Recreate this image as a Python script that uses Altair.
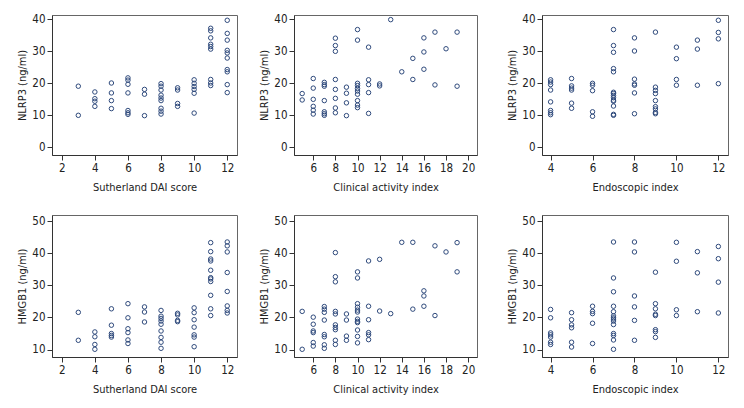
import altair as alt
import pandas as pd

# ---- data: x score -> list of measured concentrations (ng/ml) ----
DAI_NLRP3 = {
    3: [19.0, 9.9],
    4: [17.2, 15.1, 14.3, 12.7],
    5: [20.0, 16.9, 14.5, 12.0],
    6: [21.6, 20.9, 19.6, 16.9, 11.4, 10.7, 10.2],
    7: [18.0, 16.5, 9.8],
    8: [19.8, 19.0, 17.8, 16.2, 15.3, 14.5, 12.1, 11.2, 10.3],
    9: [18.5, 17.8, 13.6, 12.7],
    10: [21.0, 19.9, 18.9, 18.0, 16.8, 10.6],
    11: [37.1, 36.3, 34.1, 32.1, 31.4, 30.6, 21.1, 20.0, 19.2],
    12: [39.6, 35.5, 33.4, 30.2, 29.4, 27.8, 24.2, 23.5, 19.5, 17.0],
}
CAI_NLRP3 = {
    5: [16.7, 14.7],
    6: [21.4, 18.4, 14.9, 12.7, 11.5, 10.3],
    7: [20.2, 19.5, 19.0, 14.5, 11.0, 10.4, 9.9],
    8: [34.0, 31.7, 29.9, 21.1, 18.0, 15.2, 12.2, 10.7],
    9: [18.7, 16.8, 13.8, 9.8],
    10: [36.7, 33.4, 19.9, 19.2, 18.3, 17.5, 16.5, 14.5, 13.1, 12.3],
    11: [31.2, 21.0, 19.5, 17.0, 10.5],
    12: [19.7, 19.1],
    13: [39.8],
    14: [23.5],
    15: [27.7, 21.1],
    16: [34.1, 29.7, 24.3],
    17: [35.9, 19.4],
    18: [30.7],
    19: [35.9, 19.0],
}
ENDO_NLRP3 = {
    4: [21.0, 20.3, 19.5, 17.8, 14.1, 11.4, 10.7, 10.1],
    5: [21.4, 19.1, 18.4, 17.8, 13.7, 12.1],
    6: [19.9, 19.3, 17.6, 11.0, 9.6],
    7: [36.7, 31.7, 29.6, 24.5, 23.5, 17.1, 16.7, 16.1, 15.4, 14.6, 14.3, 12.8, 10.2, 9.9],
    8: [34.1, 30.0, 21.2, 19.7, 19.3, 16.9, 10.4],
    9: [35.9, 18.7, 17.7, 16.7, 14.5, 12.6, 11.9, 10.8, 10.4],
    10: [31.2, 27.6, 21.1, 19.3],
    11: [33.4, 30.6, 19.3],
    12: [39.6, 35.8, 33.8, 19.8],
}
DAI_HMGB1 = {
    3: [21.6, 12.9],
    4: [15.5, 14.0, 11.6, 10.1],
    5: [22.7, 17.6, 15.0, 14.4, 13.9],
    6: [24.3, 19.9, 16.5, 15.3, 13.0, 11.9],
    7: [23.3, 21.7, 18.6],
    8: [22.2, 20.4, 19.7, 18.9, 17.9, 15.8, 13.8, 12.3, 10.4],
    9: [21.3, 20.8, 19.1, 18.7],
    10: [23.0, 21.5, 19.3, 17.0, 14.6, 13.9, 10.9],
    11: [43.3, 40.5, 38.2, 37.6, 34.7, 32.4, 32.0, 31.2, 26.9, 22.7, 20.6],
    12: [43.5, 42.3, 40.4, 34.0, 28.1, 23.6, 22.2, 21.4],
}
CAI_HMGB1 = {
    5: [21.9, 10.1],
    6: [20.1, 17.9, 15.8, 15.3, 12.2, 11.1],
    7: [23.4, 22.6, 21.6, 19.2, 14.7, 14.0, 11.5, 10.4],
    8: [40.2, 32.7, 31.1, 21.9, 21.1, 17.7, 16.9, 16.2, 12.9, 11.6],
    9: [21.1, 19.2, 14.2, 12.9],
    10: [34.2, 32.3, 24.3, 23.2, 22.3, 21.7, 19.5, 18.8, 18.4, 16.1, 14.1, 12.1],
    11: [37.6, 23.5, 19.3, 15.3, 14.6, 13.1],
    12: [38.1, 22.0],
    13: [21.2],
    14: [43.4],
    15: [43.4, 22.6],
    16: [28.3, 26.7, 23.5],
    17: [42.3, 20.6],
    18: [40.4],
    19: [43.3, 34.2],
}
ENDO_HMGB1 = {
    4: [22.5, 19.9, 15.2, 14.6, 13.9, 12.3, 11.6],
    5: [21.5, 19.3, 17.7, 16.8, 12.3, 10.8],
    6: [23.5, 21.9, 21.2, 18.2, 11.9],
    7: [43.5, 32.3, 28.0, 23.5, 21.8, 20.5, 19.9, 19.5, 18.9, 17.8, 15.0, 14.4, 13.0, 10.1],
    8: [43.5, 40.4, 26.7, 23.3, 19.1, 12.9],
    9: [34.1, 24.3, 22.7, 21.0, 20.6, 16.2, 15.6, 13.8],
    10: [43.4, 37.5, 22.4, 20.6],
    11: [40.5, 33.9, 21.8],
    12: [42.1, 38.3, 31.0, 21.4],
}

X_TITLES = ["Sutherland DAI score", "Clinical activity index", "Endoscopic index"]
Y_TITLES = ["NLRP3 (ng/ml)", "HMGB1 (ng/ml)"]
X_TICKS = [[2, 4, 6, 8, 10, 12], [6, 8, 10, 12, 14, 16, 18, 20], [4, 6, 8, 10, 12]]
X_DOMAINS = [[1.41, 12.59], [4.26, 20.8], [3.59, 12.46]]
Y_TICKS = [[0, 10, 20, 30, 40], [10, 20, 30, 40, 50]]
Y_DOMAINS = [[-2.5, 41.25], [7.7, 51.9]]
WIDTHS = [185, 183, 186]
HEIGHTS = [140, 142]

FONT = "DejaVu Sans Condensed, Liberation Sans Narrow, sans-serif"
POINT_COLOR = "#2f4a7c"


def to_df(d):
    rows = [{"x": k, "y": v} for k, vals in d.items() for v in vals]
    return pd.DataFrame(rows)


def panel(d, col, row):
    return (
        alt.Chart(to_df(d))
        .mark_point(shape="circle", filled=False, size=20, strokeWidth=1, color=POINT_COLOR, opacity=1)
        .encode(
            x=alt.X(
                "x:Q",
                scale=alt.Scale(domain=X_DOMAINS[col], nice=False, zero=False),
                axis=alt.Axis(values=X_TICKS[col], title=X_TITLES[col], format="d"),
            ),
            y=alt.Y(
                "y:Q",
                scale=alt.Scale(domain=Y_DOMAINS[row], nice=False, zero=False),
                axis=alt.Axis(values=Y_TICKS[row], title=Y_TITLES[row], format="d"),
            ),
        )
        .properties(width=WIDTHS[col], height=HEIGHTS[row])
    )


data = [[DAI_NLRP3, CAI_NLRP3, ENDO_NLRP3], [DAI_HMGB1, CAI_HMGB1, ENDO_HMGB1]]

rows = []
for r in range(2):
    p = [panel(data[r][c], c, r) for c in range(3)]
    rows.append(alt.hconcat(alt.hconcat(p[0], p[1], spacing=20), p[2], spacing=28))

chart = (
    alt.vconcat(rows[0], rows[1], spacing=21)
    .properties(padding={"left": 8, "top": 4, "right": 0, "bottom": 0}, background="white")
    .configure_view(stroke="#666666", strokeWidth=1)
    .configure_axis(
        grid=False,
        domainColor="#333333",
        tickColor="#333333",
        tickSize=5,
        labelFont=FONT,
        titleFont=FONT,
        labelFontSize=11.5,
        titleFontSize=11,
        titleFontWeight="normal",
        labelColor="#222222",
        titleColor="#222222",
        labelPadding=2,
    )
    .configure_axisX(titlePadding=8)
    .configure_axisY(titlePadding=4)
)

chart.save("out.html", embed_options={"renderer": "svg", "actions": False})
